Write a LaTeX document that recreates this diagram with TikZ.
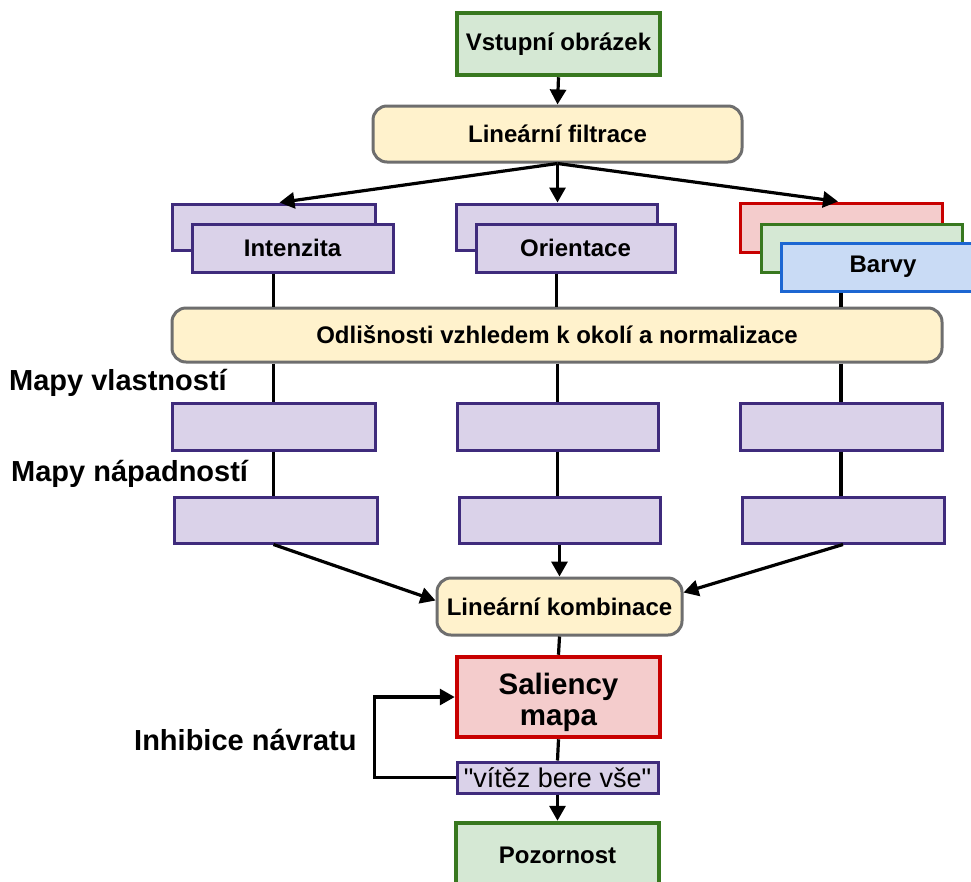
\documentclass[tikz,border=0pt]{standalone}
\usepackage{fontspec}
\setmainfont{Liberation Sans}
\newfontfamily\plainquotes{Liberation Sans}[Ligatures=TeXOff]
\usetikzlibrary{arrows.meta,calc}

\definecolor{grnfill}{HTML}{D5E8D4}
\definecolor{grnline}{HTML}{38781F}
\definecolor{ylwfill}{HTML}{FFF2CC}
\definecolor{grayline}{HTML}{6E6E6E}
\definecolor{lavfill}{HTML}{DAD2E9}
\definecolor{lavline}{HTML}{3F2B7C}
\definecolor{redfill}{HTML}{F4CCCC}
\definecolor{redline}{HTML}{C80000}
\definecolor{bluefill}{HTML}{C9DBF5}
\definecolor{blueline}{HTML}{1C66D2}

\tikzset{
  boxtext/.style={font=\fontsize{24}{28}\selectfont\bfseries, text=black},
  greenbox/.style={boxtext, draw=grnline, fill=grnfill, line width=4.5pt, inner sep=0pt},
  procbox/.style={boxtext, draw=grayline, fill=ylwfill, line width=3pt, rounded corners=14pt, inner sep=0pt},
  mapbox/.style={boxtext, draw=lavline, fill=lavfill, line width=3pt, inner sep=0pt},
  redbox/.style={boxtext, draw=redline, fill=redfill, line width=3pt, inner sep=0pt},
  bluebox/.style={boxtext, draw=blueline, fill=bluefill, line width=3pt, inner sep=0pt},
  sidelabel/.style={font=\fontsize{29}{33}\selectfont\bfseries, anchor=west, inner sep=0pt},
  conn/.style={line width=3.2pt, draw=black},
  arr/.style={conn, -{Triangle[length=15pt,width=16pt]}},
}

\begin{document}
\begin{tikzpicture}[x=1pt,y=-1pt]
\useasboundingbox (0,0) rectangle (971,881);
\clip (0,0) rectangle (971,881);
\fill[white] (0,0) rectangle (971,881);

% input and filtering
\node[greenbox, minimum width=203, minimum height=62] (vstup) at (558.5,44) {Vstupní obrázek};
\node[procbox, minimum width=369, minimum height=56] (filtr) at (557.5,134) {Lineární filtrace};

% feature channels (stacked)
\node[mapbox, minimum width=203, minimum height=46] (intB) at (273.5,227) {};
\node[mapbox, minimum width=201, minimum height=48] (intF) at (292.5,248) {Intenzita};
\node[mapbox, minimum width=201, minimum height=46] (oriB) at (556.5,227) {};
\node[mapbox, minimum width=199, minimum height=48] (oriF) at (575.5,248) {Orientace};
\node[redbox, minimum width=202, minimum height=49] (barR) at (841,227.5) {};
\node[greenbox, line width=3pt, minimum width=201, minimum height=48] (barG) at (861.5,248) {};
\node[bluebox, minimum width=204, minimum height=48] (barB) at (883,267) {Barvy};

% centre-surround differences
\node[procbox, minimum width=770, minimum height=54] (odl) at (557,335) {Odlišnosti vzhledem k okolí a normalizace};

% feature maps
\node[mapbox, minimum width=203, minimum height=47] (r1a) at (273.5,426.5) {};
\node[mapbox, minimum width=201, minimum height=47] (r1b) at (557.5,426.5) {};
\node[mapbox, minimum width=202, minimum height=47] (r1c) at (841,426.5) {};

% conspicuity maps
\node[mapbox, minimum width=203, minimum height=46] (r2a) at (275.5,520) {};
\node[mapbox, minimum width=201, minimum height=46] (r2b) at (559.5,520) {};
\node[mapbox, minimum width=202, minimum height=46] (r2c) at (843,520) {};

% combination, saliency, WTA, attention
\node[procbox, minimum width=245, minimum height=57] (komb) at (559.5,606.5) {Lineární kombinace};
\node[redbox, line width=4.5pt, minimum width=203, minimum height=80] (sal) at (558.5,697) {};
\node[align=center, inner sep=0pt, font=\fontsize{29.5}{31}\selectfont\bfseries] (salT) at ([yshift=-5]sal.center) {Saliency\\mapa};
\node[mapbox, minimum width=201, minimum height=31, font=\fontsize{27}{30}\selectfont\plainquotes] (vit) at (557.5,777.5) {"vítěz bere vše"};
\node[greenbox, minimum width=203, minimum height=64] (poz) at (557.5,855) {Pozornost};

% side labels
\node[sidelabel] (lblV) at (9,383) {Mapy vlastností};
\node[sidelabel] (lblN) at (11,474) {Mapy nápadností};
\node[sidelabel] (lblI) at (134,740) {Inhibice návratu};

% connectors
\draw[arr] (vstup.south) -- (filtr.north);
\draw[arr] (filtr.south) -- ([xshift=6]intB.north);
\draw[arr] (filtr.south) -- (oriB.north -| filtr.south);
\draw[arr] (filtr.south) -- ([xshift=-3]barR.north);

\draw[conn] (intF.south -| intB) -- (odl.north -| intB);
\draw[conn] (oriF.south -| oriB) -- (odl.north -| oriB);
\draw[conn] (barB.south -| barR) -- (odl.north -| barR);

\foreach \n in {r1a,r1b,r1c}{\draw[conn] (odl.south -| \n) -- (\n.north);}
\draw[conn] (r1a.south) -- (r2a.north -| r1a);
\draw[conn] (r1b.south) -- (r2b.north -| r1b);
\draw[conn] (r1c.south) -- (r2c.north -| r1c);

\draw[arr] ([xshift=-2]r2a.south) -- ([yshift=6]komb.west);
\draw[arr] (r2b.south) -- (komb.north);
\draw[arr] (r2c.south) -- ([yshift=14]komb.east);

\draw[conn] (komb.south) -- (sal.north);
\draw[conn] (sal.south) -- (vit.north);
\draw[arr] (vit.south) -- (poz.north);
\draw[arr] (vit.west) -- ++(-81,0) |- (sal.west);
\end{tikzpicture}
\end{document}
